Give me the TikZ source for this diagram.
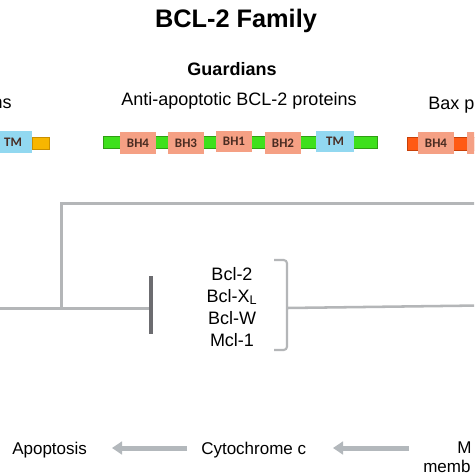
\documentclass[tikz,border=0pt]{standalone}
\usepackage{fontspec}
\setmainfont{Liberation Sans}
\newfontfamily\boxfont{Carlito}
\usetikzlibrary{arrows.meta}
\definecolor{linegray}{HTML}{B4B6B8}
\definecolor{bargray}{HTML}{6C6C70}
\definecolor{arrgray}{HTML}{B3B8BC}
\definecolor{bhsalmon}{HTML}{F5A084}
\definecolor{tmblue}{HTML}{92D8F0}
\definecolor{gbar}{HTML}{3EE01C}
\definecolor{gbarline}{HTML}{2E9E12}
\definecolor{obar}{HTML}{F7B600}
\definecolor{obarline}{HTML}{C98F00}
\definecolor{rbar}{HTML}{FF5A14}
\definecolor{rbarline}{HTML}{C84008}
\definecolor{boxtext}{HTML}{4A2C22}
\tikzset{
  dom/.style={fill=bhsalmon, inner sep=0pt, minimum width=27pt, minimum height=16.5pt,
    font=\boxfont\bfseries\fontsize{9.75}{10}\selectfont, text=boxtext},
  tmdom/.style={dom, fill=tmblue, minimum width=28.5pt, minimum height=15.75pt},
  conn/.style={draw=linegray, line width=2.25pt},
  bracketline/.style={draw=linegray, line width=1.6pt, rounded corners=2.5pt},
  inhib/.style={draw=bargray, line width=2.6pt},
  arr/.style={draw=arrgray, line width=3.75pt, -{Triangle[length=7.5pt,width=9.5pt]}},
  lbl/.style={inner sep=0pt, font=\fontsize{13.5}{16}\selectfont},
  blbl/.style={inner sep=0pt, font=\bfseries\fontsize{13.5}{16}\selectfont},
  small/.style={inner sep=0pt, font=\fontsize{12.75}{15}\selectfont},
  prot/.style={inner sep=0pt, anchor=base, font=\fontsize{13.5}{16}\selectfont}
}
\begin{document}
\begin{tikzpicture}[x=0.75pt,y=-0.75pt]
\useasboundingbox (0,0) rectangle (474,474);
\clip (0,0) rectangle (474,474);
\fill[white] (0,0) rectangle (474,474);

% titles
\node[inner sep=0pt, anchor=base, font=\bfseries\fontsize{19}{22}\selectfont] (title) at (236,28) {BCL-2 Family};
\node[blbl, anchor=base] (guard) at (232,76) {Guardians};
\node[lbl, anchor=base] (anti) at (239,106) {Anti-apoptotic BCL-2 proteins};
\node[lbl, anchor=base east] (leftlbl) at (12,109) {ns};
\node[lbl, anchor=base west] (rightlbl) at (428,110) {Bax p};

% left protein (clipped)
\draw[obarline, fill=obar, line width=0.5pt] (32,137) rectangle (49,149);
\node[tmdom] (ltm) at (13,142) {TM};

% central protein
\draw[gbarline, fill=gbar, line width=0.5pt] (103,136) rectangle (377,148);
\node[dom] (bh4) at (138,143) {BH4};
\node[dom] (bh3) at (186,143) {BH3};
\node[dom, minimum height=15.75pt] (bh1) at (234,141.5) {BH1};
\node[dom] (bh2) at (283,143) {BH2};
\node[tmdom] (tm) at (335,141.5) {TM};

% right protein (clipped)
\draw[rbarline, fill=rbar, line width=0.5pt] (407,137) rectangle (480,150);
\node[dom] (rbh4) at (436,143) {BH4};
\node[dom] (rbhx) at (485,143) {};

% connector lines
\coordinate (inL) at (-5,308);
\coordinate (junc) at (61,308);
\coordinate (topL) at (61,203);
\coordinate (topR) at (480,203);
\coordinate (tbar) at (151,308);
\coordinate (tbarT) at (151,276);
\coordinate (tbarB) at (151,334);
\coordinate (brT) at (274,260);
\coordinate (brM) at (287,308);
\coordinate (brB) at (274,350);
\coordinate (outR) at (480,305.5);

\draw[conn] (inL) -- (tbar);
\draw[conn] (junc) -- (topL) -- (topR);
\draw[inhib] (tbarT) -- (tbarB);

% list of guardians
\node[prot] (b1) at (232,280) {Bcl-2};
\node[prot] (b2) at (232,302) {Bcl-X\textsubscript{L}};
\node[prot] (b3) at (232,324) {Bcl-W};
\node[prot] (b4) at (232,346) {Mcl-1};

\draw[bracketline] (brT) -| (brM) |- (brB);
\draw[conn, line width=1.9pt] (brM) -- (outR);

% bottom pathway
\node[small, anchor=base west] (apop) at (12,454) {Apoptosis};
\node[small, anchor=base west] (cyto) at (201,454) {Cytochrome c};
\node[small, anchor=base west] (m1) at (457,453) {M};
\node[small, anchor=base west] (m2) at (423,472) {memb};

\coordinate (a1s) at (187,448);
\coordinate (a1e) at (112,448);
\coordinate (a2s) at (409,448);
\coordinate (a2e) at (333,448);
\draw[arr] (a1s) -- (a1e);
\draw[arr] (a2s) -- (a2e);
\end{tikzpicture}
\end{document}
